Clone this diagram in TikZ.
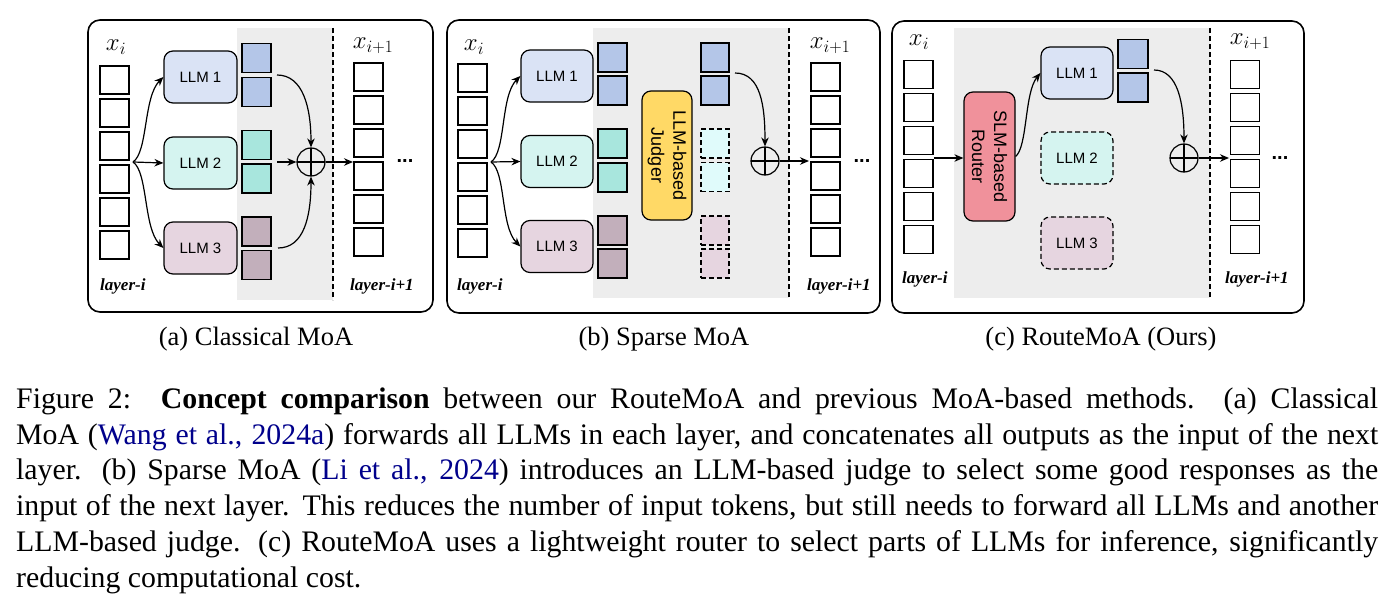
\documentclass[tikz,border=0pt]{standalone}
\usepackage[no-math]{fontspec}
\setmainfont{Liberation Serif}
\newfontfamily\sansf{Liberation Sans}
\usetikzlibrary{arrows.meta,calc}
\definecolor{bggray}{HTML}{EDEDED}
\definecolor{llmA}{HTML}{DAE3F5}
\definecolor{sqA}{HTML}{B4C6E8}
\definecolor{llmB}{HTML}{D5F4F0}
\definecolor{sqB}{HTML}{A8E6DD}
\definecolor{llmC}{HTML}{E6D5E0}
\definecolor{sqC}{HTML}{C2AFBB}
\definecolor{judgecol}{HTML}{FFD966}
\definecolor{routercol}{HTML}{F0919B}
\definecolor{cyanlite}{HTML}{E0FBFB}
\definecolor{linkblue}{HTML}{00008B}
\begin{document}
\begin{tikzpicture}[x=1pt,y=-1pt,
  panel/.style={draw, line width=1.6pt, rounded corners=12pt},
  cell/.style={draw, fill=white, line width=1.2pt, minimum width=29pt, minimum height=28pt, inner sep=0pt},
  sq/.style={draw, line width=1.2pt, minimum width=29pt, minimum height=29pt, inner sep=0pt},
  dsq/.style={sq, dash pattern=on 5pt off 3pt},
  llm/.style={draw, line width=1.2pt, rounded corners=9pt, minimum width=73pt, minimum height=52pt, inner sep=0pt, font=\sansf\fontsize{15}{16}\selectfont},
  dllm/.style={llm, dash pattern=on 5pt off 3pt},
  tall/.style={draw, line width=1.2pt, rounded corners=9pt, rotate=-90, minimum width=129pt, minimum height=51pt, inner sep=0pt, align=center, font=\sansf\fontsize{18}{22}\selectfont},
  arr/.style={line width=1.2pt, -{Stealth[length=9pt,width=7.5pt]}},
  oplusnode/.style={draw, circle, minimum size=28pt, inner sep=0pt, line width=1.2pt,
     path picture={\draw[line width=1.2pt] (path picture bounding box.north) -- (path picture bounding box.south) (path picture bounding box.west) -- (path picture bounding box.east);}},
  xlab/.style={inner sep=0pt, font=\fontsize{23}{24}\selectfont},
  laylab/.style={inner sep=0pt, anchor=base west, font=\fontsize{17}{18}\selectfont\bfseries\itshape},
  dotsl/.style={inner sep=0pt, anchor=base, font=\sansf\bfseries\fontsize{20}{20}\selectfont},
  subcap/.style={inner sep=0pt, anchor=base, font=\fontsize{26.5}{28}\selectfont},
  vdash/.style={line width=1.2pt, dash pattern=on 5pt off 3pt}
]
\useasboundingbox (0,0) rectangle (1393,610);

%================ (a) =================
\fill[bggray] (237,28) rectangle (333,300);
\draw[vdash] (333,28) -- (333,300);
\draw[panel] (88,20) rectangle (433,312);
\foreach \k in {1,...,6} {
  \node[cell] (a-in-\k) at (114.5,{80+33*(\k-1)}) {};
  \node[cell] (a-out-\k) at (368.5,{77+33*(\k-1)}) {};
}
\node[xlab] (a-xi) at (116,47) {$x_i$};
\node[xlab] (a-xo) at (373,46) {$x_{i+1}$};
\node[dotsl] (a-dots) at (405,162) {...};
\node[laylab] (a-l1) at (100,290) {layer-i};
\node[laylab] (a-l2) at (350,290) {layer-i+1};
\node[llm, fill=llmA] (a-llm-1) at (200.5,77) {LLM 1};
\node[llm, fill=llmB] (a-llm-2) at (200.5,163) {LLM 2};
\node[llm, fill=llmC] (a-llm-3) at (200.5,248) {LLM 3};
\node[sq, fill=sqA] (a-sq-1) at (256.5,58) {};
\node[sq, fill=sqA] (a-sq-2) at (256.5,92) {};
\node[sq, fill=sqB] (a-sq-3) at (256.5,145) {};
\node[sq, fill=sqB] (a-sq-4) at (256.5,178.5) {};
\node[sq, fill=sqC] (a-sq-5) at (256.5,231.5) {};
\node[sq, fill=sqC] (a-sq-6) at (256.5,265) {};
\node[oplusnode] (a-plus) at (311,162) {};
\coordinate (a-src) at (133,162);
\coordinate (a-s1) at (277,75);
\coordinate (a-s2) at (277,162);
\coordinate (a-s3) at (278,248);
\coordinate (a-tgt) at (353,162);
\draw[arr] (a-src) .. controls +(15,-10) and +(-20,20) .. (a-llm-1.west);
\draw[arr] (a-src) -- (a-llm-2.west);
\draw[arr] (a-src) .. controls +(15,10) and +(-20,-20) .. (a-llm-3.west);
\draw[arr] (a-s1) .. controls +(26,0) and +(0,-40) .. (a-plus.north);
\draw[arr] (a-s2) -- (a-plus.west);
\draw[arr] (a-s3) .. controls +(26,0) and +(0,40) .. (a-plus.south);
\draw[arr] (a-plus.east) -- (a-tgt);
\node[subcap] (a-cap) at (256,345) {(a) Classical MoA};

%================ (b) =================
\fill[bggray] (593,28) rectangle (789,298);
\draw[vdash] (789,28) -- (789,298);
\draw[panel] (447,20) rectangle (880,313);
\foreach \k in {1,...,6} {
  \node[cell] (b-in-\k) at (472.5,{78+33*(\k-1)}) {};
  \node[cell] (b-out-\k) at (825.5,{77+33*(\k-1)}) {};
}
\node[xlab] (b-xi) at (474,47) {$x_i$};
\node[xlab] (b-xo) at (830,46) {$x_{i+1}$};
\node[dotsl] (b-dots) at (862,162) {...};
\node[laylab] (b-l1) at (457,290) {layer-i};
\node[laylab] (b-l2) at (807,290) {layer-i+1};
\node[llm, fill=llmA, minimum width=72pt] (b-llm-1) at (557,76) {LLM 1};
\node[llm, fill=llmB, minimum width=72pt] (b-llm-2) at (557,161.5) {LLM 2};
\node[llm, fill=llmC, minimum width=72pt] (b-llm-3) at (557,246.5) {LLM 3};
\node[sq, fill=sqA] (b-sq-1) at (612.5,57.5) {};
\node[sq, fill=sqA] (b-sq-2) at (612.5,90.5) {};
\node[sq, fill=sqB] (b-sq-3) at (612.5,143.5) {};
\node[sq, fill=sqB] (b-sq-4) at (612.5,177.5) {};
\node[sq, fill=sqC] (b-sq-5) at (612.5,230.5) {};
\node[sq, fill=sqC] (b-sq-6) at (612.5,263.5) {};
\node[tall, fill=judgecol, minimum height=50pt] (b-judge) at (667,155.5) {LLM-based\\Judger};
\node[sq, fill=sqA, minimum width=28pt] (b-sel-1) at (715,57.5) {};
\node[sq, fill=sqA, minimum width=28pt] (b-sel-2) at (715,90.5) {};
\node[dsq, fill=cyanlite, minimum width=28pt] (b-sel-3) at (715,143.5) {};
\node[dsq, fill=cyanlite, minimum width=28pt] (b-sel-4) at (715,177) {};
\node[dsq, fill=llmC, minimum width=28pt] (b-sel-5) at (715,230.5) {};
\node[dsq, fill=llmC, minimum width=28pt] (b-sel-6) at (715,263.5) {};
\node[oplusnode] (b-plus) at (765,161) {};
\coordinate (b-src) at (491,162);
\coordinate (b-s1) at (735,73);
\coordinate (b-tgt) at (809,161);
\draw[arr] (b-src) .. controls +(15,-10) and +(-20,20) .. (b-llm-1.west);
\draw[arr] (b-src) -- (b-llm-2.west);
\draw[arr] (b-src) .. controls +(15,10) and +(-20,-20) .. (b-llm-3.west);
\draw[arr] (b-s1) .. controls +(26,0) and +(0,-40) .. (b-plus.north);
\draw[arr] (b-plus.east) -- (b-tgt);
\node[subcap] (b-cap) at (664,345) {(b) Sparse MoA};

%================ (c) =================
\fill[bggray] (954,28) rectangle (1210,298);
\draw[vdash] (1210,28) -- (1210,298);
\draw[panel] (892,21) rectangle (1304,313);
\foreach \k in {1,...,6} {
  \node[cell] (c-in-\k) at (918.5,{74.5+33*(\k-1)}) {};
  \node[cell] (c-out-\k) at (1245,{74.5+33*(\k-1)}) {};
}
\node[xlab] (c-xi) at (919,42) {$x_i$};
\node[xlab] (c-xo) at (1250,42) {$x_{i+1}$};
\node[dotsl] (c-dots) at (1280,159) {...};
\node[laylab] (c-l1) at (902,283) {layer-i};
\node[laylab] (c-l2) at (1225,283) {layer-i+1};
\node[tall, fill=routercol] (c-router) at (989.5,156.5) {SLM-based\\Router};
\node[llm, fill=llmA, minimum width=72pt] (c-llm-1) at (1077,73) {LLM 1};
\node[dllm, fill=llmB, minimum width=72pt] (c-llm-2) at (1077,158) {LLM 2};
\node[dllm, fill=llmC, minimum width=72pt] (c-llm-3) at (1077,243) {LLM 3};
\node[sq, fill=sqA, minimum width=30pt] (c-sq-1) at (1133,54) {};
\node[sq, fill=sqA, minimum width=30pt] (c-sq-2) at (1133,87.5) {};
\node[oplusnode] (c-plus) at (1184,158) {};
\coordinate (c-src) at (934,158);
\coordinate (c-s1) at (1154,70);
\coordinate (c-tgt) at (1229,158);
% router is rotated by -90: its south anchor is on the left, its north anchor on the right
\draw[arr] (c-src) -- (c-router.south |- c-src);
\draw[arr] (c-router.north) .. controls +(12,-10) and +(-16,20) .. (c-llm-1.west);
\draw[arr] (c-s1) .. controls +(24,0) and +(0,-40) .. (c-plus.north);
\draw[arr] (c-plus.east) -- (c-tgt);
\node[subcap] (c-cap) at (1101,345) {(c) RouteMoA (Ours)};

%================ caption =================
\node[anchor=north west, inner sep=0pt, text width=1362pt, align=justify,
      font=\fontsize{29.8}{35.8}\selectfont] (cap) at (16,387)
{\rule{0pt}{21pt}Figure 2:\hspace{1em}\textbf{Concept comparison} between our RouteMoA and previous MoA-based methods. (a) Classical\linebreak
MoA (\textcolor{linkblue}{Wang et al., 2024a}) forwards all LLMs in each layer, and concatenates all outputs as the input of the next\linebreak
layer. (b) Sparse MoA (\textcolor{linkblue}{Li et al., 2024}) introduces an LLM-based judge to select some good responses as the\linebreak
input of the next layer. This reduces the number of input tokens, but still needs to forward all LLMs and another\linebreak
LLM-based judge. (c) RouteMoA uses a lightweight router to select parts of LLMs for inference, significantly\linebreak
reducing computational cost.};
\end{tikzpicture}
\end{document}
